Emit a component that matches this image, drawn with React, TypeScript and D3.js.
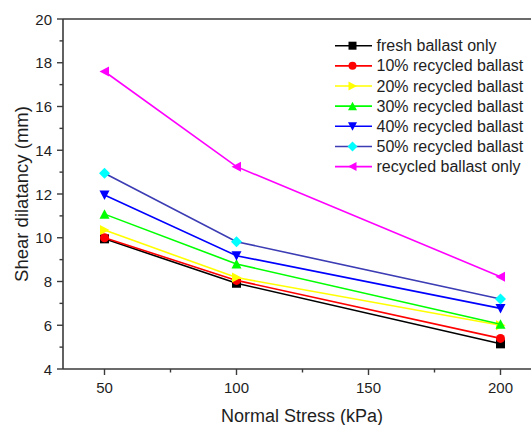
import React from "react";
import * as d3 from "d3";

const stress = [50, 100, 200];
const seriesNames = [
  "fresh ballast only",
  "10% recycled ballast",
  "20% recycled ballast",
  "30% recycled ballast",
  "40% recycled ballast",
  "50% recycled ballast",
  "recycled ballast only",
];
const fresh = [9.95, 7.92, 5.15];
const rec10 = [10.0, 8.05, 5.4];
const rec20 = [10.35, 8.18, 6.0];
const rec30 = [11.08, 8.8, 6.05];
const rec40 = [11.95, 9.18, 6.77];
const rec50 = [12.95, 9.82, 7.2];
const recOnly = [17.6, 13.25, 8.22];
const seriesValues = [fresh, rec10, rec20, rec30, rec40, rec50, recOnly];
const lineColors = ["#000000", "#ff0000", "#ffff00", "#00ff00", "#0000ff", "#3c3cb4", "#ff00ff"];
const markerColors = ["#000000", "#ff0000", "#ffff00", "#00ff00", "#0000ff", "#00ffff", "#ff00ff"];
const markerShapes = ["square", "circle", "triRight", "triUp", "triDown", "diamond", "triLeft"];
const xTicks = [50, 100, 150, 200];
const xMinor = [75, 125, 175];
const yTicks = [4, 6, 8, 10, 12, 14, 16, 18, 20];
const yMinor = [5, 7, 9, 11, 13, 15, 17, 19];

const FONT = "'Liberation Sans', Arial, sans-serif";

function markerPath(shape: string, s: number): string {
  const h = s / 2;
  switch (shape) {
    case "square":
      return `M${-h},${-h}H${h}V${h}H${-h}Z`;
    case "circle":
      return d3.symbol(d3.symbolCircle, Math.PI * h * h)() as string;
    case "triUp":
      return `M0,${-h - 0.5}L${h + 0.5},${h}L${-h - 0.5},${h}Z`;
    case "triDown":
      return `M0,${h + 0.5}L${h + 0.5},${-h}L${-h - 0.5},${-h}Z`;
    case "triRight":
      return `M${h + 0.5},0L${-h},${-h - 0.5}L${-h},${h + 0.5}Z`;
    case "triLeft":
      return `M${-h - 0.5},0L${h},${-h - 0.5}L${h},${h + 0.5}Z`;
    case "diamond":
      return `M0,${-h - 1}L${h + 1},0L0,${h + 1}L${-h - 1},0Z`;
  }
  return "";
}

export default function App() {
  const W = 531;
  const H = 425;
  const left = 63;
  const top = 19;
  const bottom = 369;
  const x = d3.scaleLinear().domain([50, 200]).range([104.5, 500.5]);
  const y = d3.scaleLinear().domain([4, 20]).range([bottom, top]);
  const line = d3
    .line<number>()
    .x((_, i) => x(stress[i]))
    .y((d) => y(d));
  const axisColor = "#3a3a3a";
  const textColor = "#1e1e1e";

  return (
    <svg
      width={W}
      height={H}
      style={{ position: "absolute", left: 0, top: 0, background: "#fff" }}
      fontFamily={FONT}
    >
      <rect x={0} y={0} width={W} height={H} fill="#fff" />
      {/* frame */}
      <line x1={left} x2={W} y1={top} y2={top} stroke={axisColor} strokeWidth={1.6} />
      <line x1={left} x2={W} y1={bottom} y2={bottom} stroke={axisColor} strokeWidth={1.6} />
      <line x1={left} x2={left} y1={top} y2={bottom} stroke={axisColor} strokeWidth={1.6} />
      {/* y ticks */}
      {yTicks.map((t) => (
        <g key={"yt" + t}>
          <line x1={left - 6} x2={left} y1={y(t)} y2={y(t)} stroke={axisColor} strokeWidth={1.4} />
          <text x={52} y={y(t) + 5.5} textAnchor="end" fontSize={15} fill={textColor}>
            {t}
          </text>
        </g>
      ))}
      {yMinor.map((t) => (
        <line key={"ym" + t} x1={left - 3.5} x2={left} y1={y(t)} y2={y(t)} stroke={axisColor} strokeWidth={1.4} />
      ))}
      {/* x ticks */}
      {xTicks.map((t) => (
        <g key={"xt" + t}>
          <line x1={x(t)} x2={x(t)} y1={bottom} y2={bottom + 6} stroke={axisColor} strokeWidth={1.4} />
          <text x={x(t)} y={393} textAnchor="middle" fontSize={15} fill={textColor}>
            {t}
          </text>
        </g>
      ))}
      {xMinor.map((t) => (
        <line key={"xm" + t} x1={x(t)} x2={x(t)} y1={bottom} y2={bottom + 3.5} stroke={axisColor} strokeWidth={1.4} />
      ))}
      {/* axis titles */}
      <text x={302} y={422} textAnchor="middle" fontSize={18} fill={textColor}>
        Normal Stress (kPa)
      </text>
      <text
        transform="translate(27.5,194) rotate(-90)"
        textAnchor="middle"
        fontSize={18.5}
        fill={textColor}
      >
        Shear dilatancy (mm)
      </text>
      {/* series */}
      {seriesValues.map((vals, si) => (
        <g key={"s" + si}>
          <path d={line(vals) as string} fill="none" stroke={lineColors[si]} strokeWidth={1.6} />
          {vals.map((v, i) => (
            <path
              key={i}
              transform={`translate(${x(stress[i])},${y(v)})`}
              d={markerPath(markerShapes[si], 9)}
              fill={markerColors[si]}
            />
          ))}
        </g>
      ))}
      {/* legend */}
      {seriesNames.map((name, si) => {
        const ly = 45.7 + si * 20.15;
        return (
          <g key={"l" + si}>
            <line x1={335} x2={372} y1={ly} y2={ly} stroke={lineColors[si]} strokeWidth={1.6} />
            <path transform={`translate(352.5,${ly})`} d={markerPath(markerShapes[si], 8)} fill={markerColors[si]} />
            <text x={376.5} y={ly + 5.5} fontSize={16} fill={textColor}>
              {name}
            </text>
          </g>
        );
      })}
    </svg>
  );
}
